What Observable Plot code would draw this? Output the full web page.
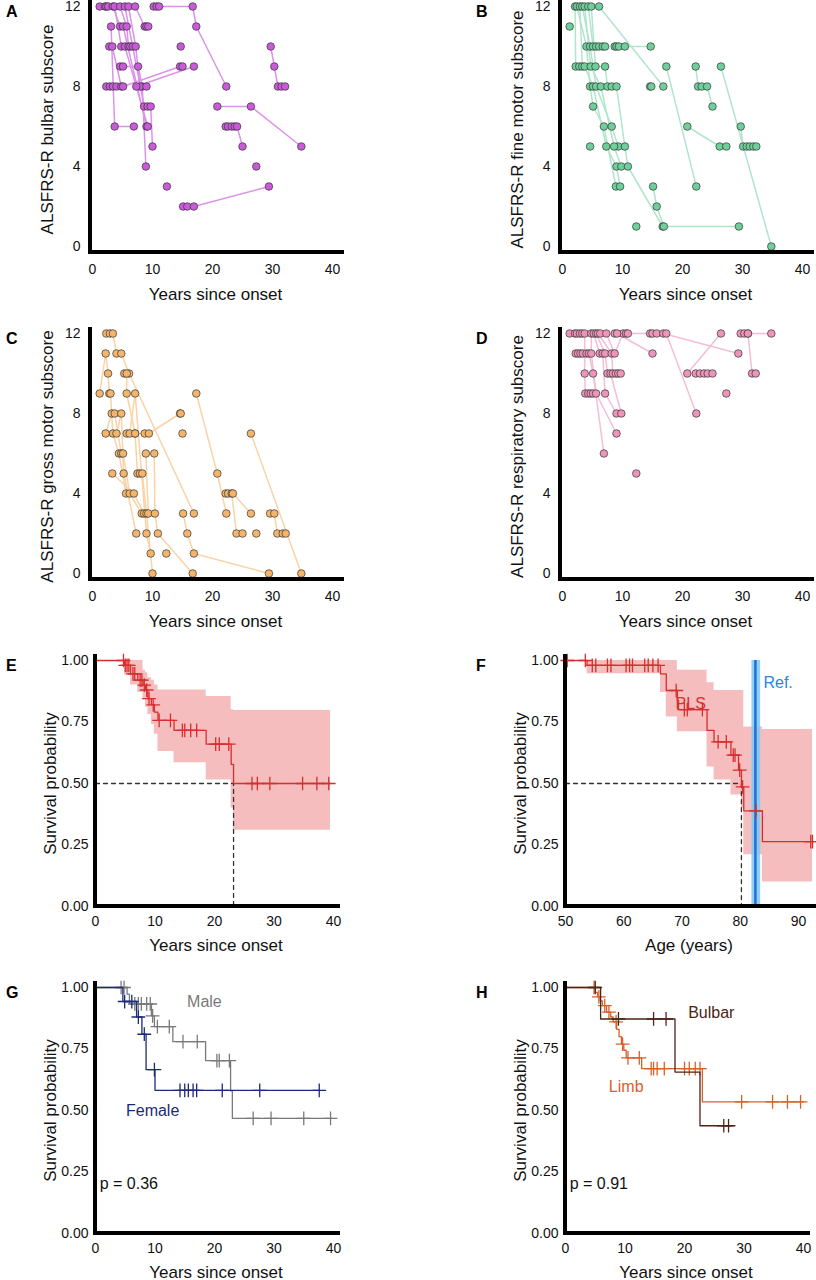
<!DOCTYPE html>
<html><head><meta charset="utf-8">
<script src="https://cdn.jsdelivr.net/npm/d3@7"></script>
<script src="https://cdn.jsdelivr.net/npm/@observablehq/plot@0.6"></script>
<style>
body{margin:0;width:816px;height:1280px;overflow:hidden;background:#fff;font-family:"Liberation Sans",Arial,sans-serif;}
.p{position:absolute;}
.lt{position:absolute;font-weight:bold;font-size:16px;color:#000;}
</style></head><body>
<div id="root" style="position:relative;width:816px;height:1280px;"></div>
<script>
// ---------- DATA ----------
const bulbarTraj = [
 [[1.2,12],[2.1,12],[2.3,12],[2.6,12]],
 [[2.3,8],[2.9,8],[3.4,8],[4.0,8]],
 [[3.1,11],[3.7,6],[6.9,6]],
 [[2.8,10],[3.3,10],[4.8,8],[5.1,8],[14.6,9],[15.0,9]],
 [[3.4,12],[4.6,11],[5.1,11],[9.0,6]],
 [[3.7,12],[4.8,10],[5.4,10],[9.2,6]],
 [[4.6,12],[5.7,11],[6.0,10],[6.3,10]],
 [[5.4,12],[6.7,10],[8.6,7],[9.2,7],[9.7,7],[10.0,5]],
 [[4.6,9],[5.1,9],[7.6,9],[8.3,8],[8.9,4]],
 [[6.0,12],[7.2,10],[7.9,8],[9.0,8]],
 [[7.1,12],[8.7,11],[9.0,11],[9.3,11]],
 [[7.3,8],[16.9,9]],
 [[10.2,12],[10.7,12],[11.1,12],[16.7,12],[17.3,11],[22.3,8]],
 [[14.7,10]],
 [[12.4,3]],
 [[15.1,2],[15.8,2],[16.9,2],[29.4,3]],
 [[20.8,7],[26.4,7],[34.8,5]],
 [[22.2,6],[22.6,6],[23.2,6],[23.7,6],[24.1,6],[25.0,5]],
 [[27.3,4]],
 [[29.7,10],[30.3,9],[30.9,8],[31.5,8],[32.1,8]]
];
const fineTraj = [
 [[1.2,11]],
 [[2.1,12],[2.2,9],[2.8,9]],
 [[2.4,12],[4.0,10],[4.6,8],[5.1,7],[6.9,6],[8.9,3]],
 [[2.9,12],[3.3,9],[3.7,9],[5.1,8],[7.3,5],[9.0,4],[9.6,3]],
 [[3.3,12],[4.6,10],[5.6,8],[8.2,6],[9.3,5]],
 [[3.7,12],[4.7,9],[6.4,8],[8.6,5],[9.8,4]],
 [[4.3,12],[5.1,10],[5.6,10],[6.1,10],[6.7,10],[7.1,10]],
 [[4.8,12],[5.5,9],[7.1,9],[7.5,8],[8.2,8],[9.0,8],[10.4,5],[10.9,4],[16.7,1]],
 [[6.1,12],[16.8,8]],
 [[4.6,5]],
 [[8.7,10],[9.0,10],[9.4,10],[10.4,10],[14.7,10]],
 [[12.3,1]],
 [[14.6,8],[14.8,8]],
 [[15.1,3],[15.7,2],[16.9,1],[29.4,1]],
 [[17.3,9],[22.3,3]],
 [[20.8,6],[26.2,5],[27.3,5]],
 [[22.2,9],[22.6,8],[23.2,8],[24.1,8],[25.0,7]],
 [[26.4,9],[34.8,0]],
 [[29.7,6],[30.1,5],[30.7,5],[31.2,5],[31.8,5],[32.3,5]]
];
const grossTraj = [
 [[2.3,12],[2.9,12],[3.4,12],[4.0,11],[4.8,11],[6.1,10],[16.9,3]],
 [[1.2,9],[2.2,11],[2.6,10],[2.8,9],[3.0,9],[3.4,7],[4.4,6],[5.6,4]],
 [[2.2,7],[3.2,8],[3.7,8],[4.8,6],[5.1,6],[6.2,4],[8.2,3]],
 [[3.3,5],[6.9,4],[8.6,3]],
 [[4.0,7],[4.8,8],[5.2,5],[7.3,2]],
 [[5.3,10],[5.7,10],[5.7,9],[7.1,7],[7.5,5],[7.9,5],[8.3,5],[9.0,3],[10.0,0]],
 [[5.7,7],[6.2,7],[7.1,9],[9.0,2],[9.7,1]],
 [[7.1,7],[8.7,7],[9.4,7],[14.6,8],[14.7,8]],
 [[8.9,6],[9.3,3]],
 [[10.3,6],[10.4,3],[10.9,2],[16.7,0]],
 [[12.3,1]],
 [[15.0,7]],
 [[15.1,3],[15.8,2],[16.9,1],[29.4,0]],
 [[17.3,9],[20.8,5],[22.3,3]],
 [[22.2,4],[22.6,4],[23.2,4],[24.0,2],[25.0,2]],
 [[23.4,4],[26.4,3]],
 [[27.3,2]],
 [[26.4,7],[34.8,0]],
 [[29.6,3],[30.3,3],[30.8,2],[31.7,2],[32.2,2]]
];
const respTraj = [
 [[1.2,12],[2.1,12],[2.4,12],[2.9,12],[3.3,12]],
 [[2.2,11],[2.6,11],[3.0,11],[3.4,11],[4.0,11]],
 [[3.7,12],[3.7,10],[3.8,9],[4.3,9],[4.7,9],[5.1,9]],
 [[4.4,11],[5.1,10],[6.9,6]],
 [[4.8,12],[4.8,11],[5.6,9],[9.0,7]],
 [[5.2,12],[6.2,11],[6.7,11],[7.1,9],[9.0,8]],
 [[5.6,12],[7.1,11],[7.5,10],[8.0,10],[9.8,8]],
 [[5.9,12],[8.2,11],[8.4,10],[8.9,10],[9.3,10],[9.7,10]],
 [[6.3,12],[7.3,12],[8.7,11],[10.1,12],[10.6,12],[10.9,12],[14.6,12],[15.0,12],[15.7,12]],
 [[8.7,12],[9.1,12],[15.0,11]],
 [[12.3,5]],
 [[16.8,12],[29.3,11]],
 [[17.3,12],[22.3,8]],
 [[20.8,10],[26.4,12]],
 [[22.2,10],[22.9,10],[23.6,10],[24.2,10],[25.0,10]],
 [[27.3,9]],
 [[29.7,12],[30.3,12],[30.9,12],[34.8,12]],
 [[30.9,12],[31.6,10],[32.2,10]]
];
const scoreTicks = [0,4,8,12];
const yearTicks = [0,10,20,30,40];
const survTicks = [0,0.25,0.5,0.75,1];

// E: overall survival vs years since onset
const eTime  = [0,4.9,5.9,7.1,8.0,8.4,8.8,9.4,9.9,10.5,13.2,18.6,22.8,23.2,39.5];
const eSurv  = [1,0.98,0.946,0.92,0.90,0.88,0.845,0.82,0.79,0.757,0.716,0.66,0.578,0.5,0.5];
const eLower = [1,0.94,0.90,0.87,0.84,0.81,0.78,0.74,0.70,0.63,0.584,0.514,0.40,0.31,0.31];
const eUpper = [1,1,1,1,0.96,0.95,0.93,0.92,0.90,0.88,0.88,0.854,0.80,0.797,0.797];
const eCensor = [4.7,5.0,5.3,5.6,6.3,6.6,7.5,7.8,8.2,8.6,9.0,9.7,10.7,12.6,14.6,15.0,16.0,17.0,20.2,20.8,22.4,26.3,27.2,29.3,34.8,37.2,39.2];
const eMedian = 23.2;

// F: survival vs age
const fAge   = [50,53.7,66.3,67.3,69.2,69.4,74.3,75.5,78.4,79.7,80.2,80.6,83.8,92.4];
const fSurv  = [1,0.98,0.946,0.878,0.838,0.80,0.716,0.669,0.615,0.554,0.486,0.389,0.264,0.264];
const fLower = [1,0.946,0.87,0.77,0.71,0.71,0.567,0.514,0.453,0.453,0.40,0.21,0.10,0.10];
const fUpper = [1,1,1,1,0.96,0.96,0.91,0.878,0.878,0.878,0.878,0.73,0.72,0.72];
const fCensor = [50.3,53.4,54.6,55.2,57.2,57.8,60.4,61.0,61.5,63.6,64.2,65.0,65.9,69.0,70.4,70.9,73.5,76.2,77.6,78.8,79.1,79.9,80.4,82.7,92.1,92.4];
const fMedian = 80.2;
const refAge = 82.6, refLo = 82.0, refHi = 83.5;

// G: by sex
const maleTime = [0,5.3,5.7,9.4,9.9,13.0,18.5,22.7,23.0,39.8];
const maleSurv = [1,0.973,0.933,0.885,0.841,0.78,0.703,0.58,0.468,0.468];
const maleCensor = [4.3,4.8,6.6,7.2,7.7,8.6,9.2,9.6,10.4,12.4,14.7,17.1,20.4,20.8,22.5,26.5,29.5,35.0,39.5];
const femTime = [0,4.6,6.9,7.8,8.5,10.0,37.7];
const femSurv = [1,0.943,0.88,0.81,0.666,0.582,0.582];
const femCensor = [4.9,6.1,7.2,8.2,9.9,14.2,15.0,15.6,16.4,17.0,21.3,27.6,37.6];

// H: by onset site
const bulbTime = [0,5.9,18.4,22.6,28.2];
const bulbSurv = [1,0.872,0.656,0.438,0.438];
const bulbCensor = [5.0,8.9,14.8,16.9,26.6,27.4];
const limbTime = [0,5.0,5.4,5.8,6.2,6.9,7.6,8.0,8.6,9.0,9.4,9.8,10.2,12.8,23.0,40.0];
const limbSurv = [1,0.98,0.962,0.946,0.926,0.90,0.88,0.86,0.83,0.80,0.77,0.745,0.714,0.67,0.535,0.535];
const limbCensor = [4.8,5.6,6.6,7.3,8.5,9.6,10.5,12.4,14.4,14.8,15.4,16.6,20.0,20.8,21.8,22.6,29.6,34.8,37.3,39.5];

// ---------- HELPERS ----------
const FONT = '"Liberation Sans", Arial, sans-serif';
const root = document.getElementById("root");
function place(el, left, top, letter){
  const d = document.createElement("div"); d.className="p";
  d.style.left=left+"px"; d.style.top=top+"px"; d.appendChild(el); root.appendChild(d);
  const l = document.createElement("div"); l.className="lt"; l.textContent=letter;
  l.style.left=(left+6)+"px"; l.style.top=(top+3)+"px"; root.appendChild(l);
}
function axisLines(chart){
  const xr = chart.scale("x").range, yr = chart.scale("y").range;
  const svg = d3.select(chart);
  const x0 = Math.min(...xr), x1 = Math.max(...xr)+4, yb = Math.max(...yr), yt = Math.min(...yr)-6;
  svg.append("line").attr("x1",x0).attr("x2",x0).attr("y1",Math.max(0,yt)).attr("y2",yb+2).attr("stroke","#000").attr("stroke-width",4);
  svg.append("line").attr("x1",x0-2).attr("x2",x1).attr("y1",yb).attr("y2",yb).attr("stroke","#000").attr("stroke-width",4);
  return chart;
}
const baseStyle = {fontFamily: FONT, fontSize: "14px", color:"#111", background:"#fff", overflow:"visible"};
function scatter(traj, label, fill, lineCol){
  const rows = [];
  traj.forEach((tr,i)=>tr.forEach(([t,s])=>rows.push({id:i,t,s})));
  const c = Plot.plot({
    width:346, height:327, marginLeft:90, marginRight:6, marginTop:6, marginBottom:75,
    style: baseStyle,
    x:{domain:[-0.33,41.33]}, y:{domain:[-0.3,12]},
    marks:[
      Plot.axisX({ticks:yearTicks, tickSize:0, tickPadding:12, label:"Years since onset", labelAnchor:"center", labelOffset:47, labelArrow:"none", fontSize:14}),
      Plot.axisY({ticks:scoreTicks, tickSize:0, tickPadding:10, label:label, labelAnchor:"center", labelOffset:50, labelArrow:"none", fontSize:14}),
      Plot.line(rows,{x:"t",y:"s",z:"id",stroke:lineCol,strokeWidth:1.5}),
      Plot.dot(rows,{x:"t",y:"s",r:3.8,fill:fill,stroke:"#333",strokeWidth:0.7})
    ]
  });
  c.querySelectorAll('g[aria-label="x-axis label"] text, g[aria-label="y-axis label"] text').forEach(t=>t.style.fontSize="17px");
  return axisLines(c);
}
function stepAt(times, surv, t){ let v=surv[0]; for(let i=0;i<times.length;i++){ if(times[i]<=t) v=surv[i]; } return v; }
function series(times, surv){ return times.map((t,i)=>({t, s:surv[i]})); }
function survPlot(xdom, xticks, xlabel, marks){
  const c = Plot.plot({
    width:346, height:327, marginLeft:95, marginRight:346-95-(xdom[1]===40.5?241:247), marginTop:6, marginBottom:75,
    style: baseStyle,
    x:{domain:xdom}, y:{domain:[0,1]},
    marks:[
      Plot.axisX({ticks:xticks, tickSize:0, tickPadding:10, label:xlabel, labelAnchor:"center", labelOffset:44, labelArrow:"none", fontSize:14}),
      Plot.axisY({ticks:survTicks, tickSize:0, tickPadding:7, tickFormat:d3.format(".2f"), label:"Survival probability", labelAnchor:"center", labelOffset:52, labelArrow:"none", fontSize:14}),
      ...marks
    ]
  });
  c.querySelectorAll('g[aria-label="x-axis label"] text, g[aria-label="y-axis label"] text').forEach(t=>t.style.fontSize="17px");
  return axisLines(c);
}
function kmMarks(times, surv, censor, col, sw=1.3){
  return [
    Plot.line(series(times,surv),{x:"t",y:"s",curve:"step-after",stroke:col,strokeWidth:sw}),
    Plot.dot(censor.map(t=>({t,s:stepAt(times,surv,t)})),{x:"t",y:"s",symbol:"plus",r:4.5,stroke:col,strokeWidth:1.3})
  ];
}

// ---------- PANELS ----------
place(scatter(bulbarTraj,"ALSFRS-R bulbar subscore","#c95ad8","#dc93ea"),0,0,"A");
place(scatter(fineTraj,"ALSFRS-R fine motor subscore","#6fcf9a","#b2e6cc"),470,0,"B");
place(scatter(grossTraj,"ALSFRS-R gross motor subscore","#f4b469","#fad3a6"),0,327,"C");
place(scatter(respTraj,"ALSFRS-R respiratory subscore","#ee93ba","#f6bdd6"),470,327,"D");

const red = "#d62f2f";
const eBand = eTime.map((t,i)=>({t,lo:eLower[i],hi:eUpper[i]}));
place(survPlot([0,40.5], yearTicks, "Years since onset", [
  Plot.areaY(eBand,{x:"t",y1:"lo",y2:"hi",curve:"step-after",fill:"#e86d6d",fillOpacity:0.45}),
  Plot.line([{t:0,s:0.5},{t:eMedian,s:0.5},{t:eMedian,s:0}],{x:"t",y:"s",stroke:"#333",strokeDasharray:"4,4",strokeWidth:1.3}),
  ...kmMarks(eTime,eSurv,eCensor,red)
]),0,654,"E");

const fBand = fAge.map((t,i)=>({t,lo:fLower[i],hi:fUpper[i]}));
place(survPlot([50,92.4], [50,60,70,80,90], "Age (years)", [
  Plot.areaY(fBand,{x:"t",y1:"lo",y2:"hi",curve:"step-after",fill:"#e86d6d",fillOpacity:0.45}),
  Plot.rect([{a:refLo,b:refHi}],{x1:"a",x2:"b",y1:0,y2:1,fill:"#7cc8f5",fillOpacity:0.85}),
  Plot.ruleX([refAge],{y1:0,y2:1,stroke:"#1f6fd6",strokeWidth:2.5}),
  Plot.line([{t:50,s:0.5},{t:fMedian,s:0.5},{t:fMedian,s:0}],{x:"t",y:"s",stroke:"#333",strokeDasharray:"4,4",strokeWidth:1.3}),
  ...kmMarks(fAge,fSurv,fCensor,red),
  Plot.text([{t:71.5,s:0.825,l:"PLS"}],{x:"t",y:"s",text:"l",fill:red,fontSize:16}),
  Plot.text([{t:86.5,s:0.91,l:"Ref."}],{x:"t",y:"s",text:"l",fill:"#2a86e0",fontSize:16})
]),470,654,"F");

place(survPlot([0,40.5], yearTicks, "Years since onset", [
  ...kmMarks(maleTime,maleSurv,maleCensor,"#7a7a7a"),
  ...kmMarks(femTime,femSurv,femCensor,"#1c2a78"),
  Plot.text([{t:18.3,s:0.94,l:"Male"}],{x:"t",y:"s",text:"l",fill:"#7a7a7a",fontSize:16}),
  Plot.text([{t:9.6,s:0.497,l:"Female"}],{x:"t",y:"s",text:"l",fill:"#1c2a78",fontSize:16}),
  Plot.text([{t:0.7,s:0.2,l:"p = 0.36"}],{x:"t",y:"s",text:"l",fill:"#111",fontSize:16,textAnchor:"start"})
]),0,981,"G");

place(survPlot([0,40.5], yearTicks, "Years since onset", [
  ...kmMarks(limbTime,limbSurv,limbCensor,"#d8612c"),
  ...kmMarks(bulbTime,bulbSurv,bulbCensor,"#4b2618"),
  Plot.text([{t:24.5,s:0.895,l:"Bulbar"}],{x:"t",y:"s",text:"l",fill:"#4b2618",fontSize:16}),
  Plot.text([{t:10.2,s:0.596,l:"Limb"}],{x:"t",y:"s",text:"l",fill:"#d8612c",fontSize:16}),
  Plot.text([{t:0.7,s:0.2,l:"p = 0.91"}],{x:"t",y:"s",text:"l",fill:"#111",fontSize:16,textAnchor:"start"})
]),470,981,"H");
</script></body></html>
